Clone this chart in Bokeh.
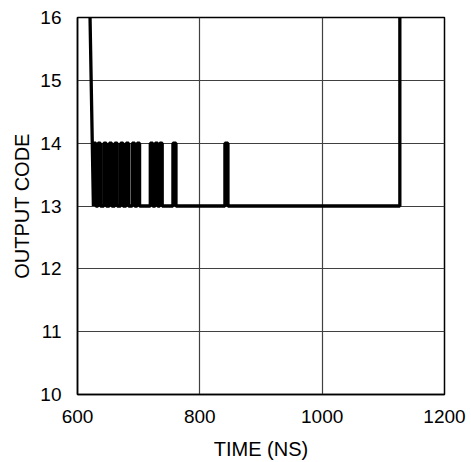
from bokeh.plotting import figure
from bokeh.models import Range1d, FixedTicker
from bokeh.embed import file_html
from bokeh.resources import INLINE

# ---- data ----
start_time = [620.5, 626.0]
start_code = [16, 13]
pulse_start = [626.0, 633.5, 643.0, 652.0, 661.0, 670.5, 679.5, 689.5, 697.5,
               719.0, 727.0, 734.5, 756.0, 841.0]
pulse_end = [630.0, 637.5, 647.0, 656.0, 665.0, 674.5, 683.5, 693.5, 701.5,
             723.0, 731.0, 738.5, 761.0, 846.0]
low_code = 13
high_code = 14
end_time = [1127.0, 1127.0]
end_code = [13, 16]

x_ticks = [600, 800, 1000, 1200]
y_ticks = [10, 11, 12, 13, 14, 15, 16]

# build the step path
t = list(start_time)
c = list(start_code)
for s, e in zip(pulse_start, pulse_end):
    t += [s, s, e, e]
    c += [low_code, high_code, high_code, low_code]
t += end_time
c += end_code

FONT = "Liberation Sans"

p = figure(width=471, height=462, output_backend="svg", toolbar_location=None,
           x_range=Range1d(600, 1200), y_range=Range1d(10, 16),
           min_border_left=77, min_border_right=27, min_border_top=17, min_border_bottom=68)
p.background_fill_color = "white"
p.border_fill_color = "white"
p.outline_line_color = "black"
p.outline_line_width = 1.5

p.line(t, c, line_color="black", line_width=3.3)

for ax in (p.xaxis[0], p.yaxis[0]):
    ax.axis_line_color = "black"
    ax.axis_line_width = 1.5
    ax.major_tick_line_color = None
    ax.minor_tick_line_color = None
    ax.major_label_text_font = FONT
    ax.major_label_text_font_size = "19px"
    ax.major_label_text_color = "black"
    ax.axis_label_text_font = FONT
    ax.axis_label_text_font_size = "20px"
    ax.axis_label_text_font_style = "normal"
    ax.axis_label_text_color = "black"

p.xaxis.ticker = FixedTicker(ticks=x_ticks)
p.yaxis.ticker = FixedTicker(ticks=y_ticks)
p.xaxis.axis_label = "TIME (NS)"
p.yaxis.axis_label = "OUTPUT CODE"
p.xaxis.major_label_standoff = 9
p.yaxis.major_label_standoff = 10
p.xaxis.axis_label_standoff = 12
p.yaxis.axis_label_standoff = 4

p.xgrid.ticker = FixedTicker(ticks=x_ticks)
p.ygrid.ticker = FixedTicker(ticks=y_ticks)
p.grid.grid_line_color = "#404040"
p.grid.grid_line_width = 1.2

open("out.html", "w").write(file_html(p, INLINE))
